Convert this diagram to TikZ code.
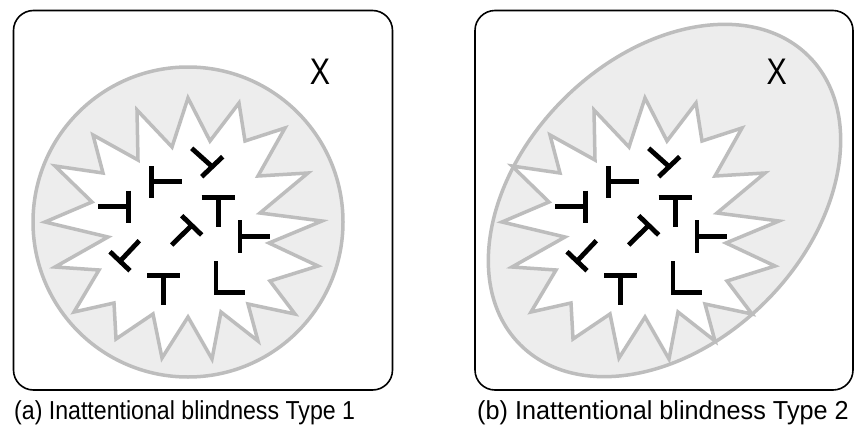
\documentclass[tikz,border=0pt]{standalone}
\usepackage{fontspec}
\setmainfont{Liberation Sans}
\definecolor{rimgray}{HTML}{BDBDBD}
\definecolor{fieldgray}{HTML}{EDEDED}
\begin{document}
\begin{tikzpicture}[x=1pt,y=-1pt,
  frame/.style={draw=black,line width=1.6pt,rounded corners=20pt},
  field/.style={draw=rimgray,fill=fieldgray,line width=3.5pt},
  burst/.style={draw=rimgray,fill=white,line width=3.5pt,line join=miter},
  glyph/.style={draw=black,line width=4.8pt,line cap=butt,line join=miter},
  caption/.style={font=\fontsize{26}{28}\selectfont,anchor=west,inner sep=0pt},
  target/.style={font=\fontsize{37}{40}\selectfont,inner sep=0pt}]
\useasboundingbox (0,0) rectangle (857,434);

% panel frames
\draw[frame] (13.5,10.5) rectangle (392.5,390);
\draw[frame] (475,10.5) rectangle (853,390);

% attended regions: circle (a) and tilted ellipse (b)
\draw[field] (188,222) circle [radius=155];
\draw[field,shift={(664.5,200.5)},rotate=45] (0,0) ellipse [x radius=204,y radius=143];

% search fields with T and L items
\foreach \dx in {0,457}{
  \begin{scope}[xshift=\dx]
    \draw[burst] (188,98) -- (210,141) -- (239,103) -- (245,141) -- (285,128)
      -- (258,176) -- (308,173) -- (260,213) -- (322,221) -- (269,243)
      -- (318,266) -- (270,281) -- (295,314) -- (248,304) -- (258,341)
      -- (221,312) -- (212,359) -- (188,317) -- (162,358) -- (153,314)
      -- (116,339) -- (114,303) -- (74,312) -- (99,270) -- (55,267)
      -- (108,237) -- (45,222) -- (92,202) -- (55,166) -- (103,173)
      -- (93,135) -- (138,160) -- (137,110) -- (172,147) -- cycle;
    % rotated T items
    \draw[glyph] (151.7,166) -- (151.7,197.7) (151.7,181.7) -- (181.7,181.7);
    \draw[glyph] (98.3,206.7) -- (128.3,206.7) (128.3,190.7) -- (128.3,222.7);
    \draw[glyph] (201.7,176.7) -- (222.7,156.7) (212.2,166.7) -- (191.7,148.3);
    \draw[glyph] (201.7,197.3) -- (235,197.3) (218.3,197.3) -- (218.3,227.3);
    \draw[glyph] (181.7,215.7) -- (201.7,235) (191.7,225.3) -- (171.7,245);
    \draw[glyph] (240,220) -- (240,252.7) (240,236.7) -- (270,236.7);
    \draw[glyph] (110,251.7) -- (130,270.7) (120,261.2) -- (139.3,240.7);
    \draw[glyph] (147.3,275.7) -- (180,275.7) (163.3,275.7) -- (163.3,305);
    % the L item
    \draw[glyph] (216,261) -- (216,292.7) -- (245,292.7);
  \end{scope}
}

% the unattended target
\node[target] (xa) at (320,71.7) {\scalebox{0.82}[1]{X}};
\node[target] (xb) at (776.7,71.7) {\scalebox{0.82}[1]{X}};

% captions
\node[caption] (capa) at (14,413) {\scalebox{0.89}[1]{(a) Inattentional blindness Type 1}};
\node[caption] (capb) at (477,413) {\scalebox{0.97}[1]{(b) Inattentional blindness Type 2}};
\end{tikzpicture}
\end{document}
